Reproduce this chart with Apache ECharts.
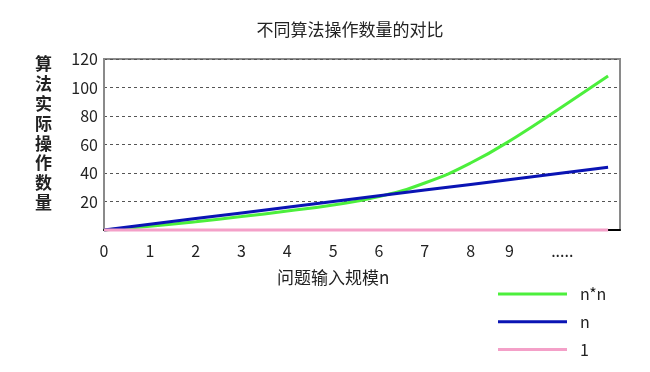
<!DOCTYPE html>
<html>
<head>
<meta charset="utf-8">
<script src="https://cdn.jsdelivr.net/npm/echarts@6/dist/echarts.min.js"></script>
<style>
html,body{margin:0;padding:0;background:#fff;}
#main{width:650px;height:372px;}
</style>
</head>
<body>
<div id="main"></div>
<script>
var titleText = '不同算法操作数量的对比';
var yAxisName = '算法实际操作数量';
var xAxisName = '问题输入规模n';
var seriesNames = ['n*n', 'n', '1'];
var xValues = [0, 1, 2, 3, 4, 5, 6, 7, 8, 9, 10, 11];
var xTickLabels = ['0', '1', '2', '3', '4', '5', '6', '7', '8', '9', '.....', ''];
var nnValues = [0, 2.6, 5.8, 9.4, 13.3, 17.6, 23.4, 33, 47, 65.5, 86.5, 108];
var nValues = [0, 4, 8, 12, 16, 20, 24, 28, 32, 36, 40, 44];
var oneValues = [0, 0, 0, 0, 0, 0, 0, 0, 0, 0, 0, 0];
var yTicks = [0, 20, 40, 60, 80, 100, 120];

function pairs(vals) {
  return xValues.map(function (x, i) { return [x, vals[i]]; });
}

var FONT = '"Noto Sans CJK SC", "Noto Sans", sans-serif';
var chart = echarts.init(document.getElementById('main'), null, {renderer: 'canvas'});
chart.setOption({
  animation: false,
  backgroundColor: '#fff',
  textStyle: {fontFamily: FONT},
  title: {
    text: titleText,
    left: 345, top: 16,
    textAlign: 'center',
    textStyle: {fontSize: 17, fontWeight: 'normal', color: '#222', fontFamily: FONT}
  },
  grid: {
    left: 104, right: 30, top: 59, bottom: 142,
    show: true, borderColor: '#8a8a8a', borderWidth: 2, backgroundColor: 'transparent'
  },
  legend: {
    orient: 'vertical',
    left: 493, top: 280,
    icon: 'rect',
    itemWidth: 69, itemHeight: 3,
    itemGap: 9.8,
    data: seriesNames,
    textStyle: {fontSize: 16, lineHeight: 18, color: '#222', padding: [0, 0, 0, 8], fontFamily: FONT}
  },
  xAxis: {
    type: 'value',
    min: 0, max: 11.26, interval: 1,
    axisLine: {show: true, lineStyle: {color: '#000', width: 2}},
    axisTick: {show: false},
    splitLine: {show: false},
    axisLabel: {
      margin: 13,
      fontSize: 16, color: '#222', fontFamily: FONT,
      showMaxLabel: false,
      formatter: function (v) {
        var i = xValues.indexOf(v);
        if (i < 0) return '';
        if (v === 9) return '{s|' + xTickLabels[i] + '}';
        return xTickLabels[i];
      },
      rich: {s: {fontSize: 16, color: '#222', padding: [0, 14, 0, 0], fontFamily: FONT}}
    }
  },
  yAxis: {
    type: 'value',
    min: yTicks[0], max: yTicks[yTicks.length - 1], interval: 20,
    axisLine: {show: true, lineStyle: {color: '#8a8a8a', width: 2}},
    axisTick: {show: false},
    splitLine: {show: true, lineStyle: {color: '#555', width: 1, type: [3, 3]}},
    axisLabel: {
      margin: 6,
      fontSize: 16, color: '#222', fontFamily: FONT,
      formatter: function (v) { return v === 0 ? '' : String(v); }
    }
  },
  graphic: [
    {
      type: 'text',
      left: 35, top: 54,
      style: {
        text: yAxisName.split('').join('\n'),
        fontSize: 17, lineHeight: 19.8, fontWeight: 'bold', fontFamily: FONT,
        fill: '#222'
      }
    },
    {
      type: 'text',
      left: 277, top: 269,
      style: {
        text: xAxisName,
        fontSize: 17, fontFamily: FONT,
        fill: '#222'
      }
    }
  ],
  series: [
    {
      name: seriesNames[0], type: 'line', smooth: true, symbol: 'none', clip: false,
      data: pairs(nnValues),
      lineStyle: {color: '#4cef3c', width: 3},
      itemStyle: {color: '#4cef3c'}
    },
    {
      name: seriesNames[1], type: 'line', smooth: false, symbol: 'none', clip: false,
      data: pairs(nValues),
      lineStyle: {color: '#0a14b4', width: 3},
      itemStyle: {color: '#0a14b4'}
    },
    {
      name: seriesNames[2], type: 'line', smooth: false, symbol: 'none', clip: false,
      data: pairs(oneValues),
      lineStyle: {color: '#f4a0c8', width: 3},
      itemStyle: {color: '#f4a0c8'}
    }
  ]
});
</script>
</body>
</html>
